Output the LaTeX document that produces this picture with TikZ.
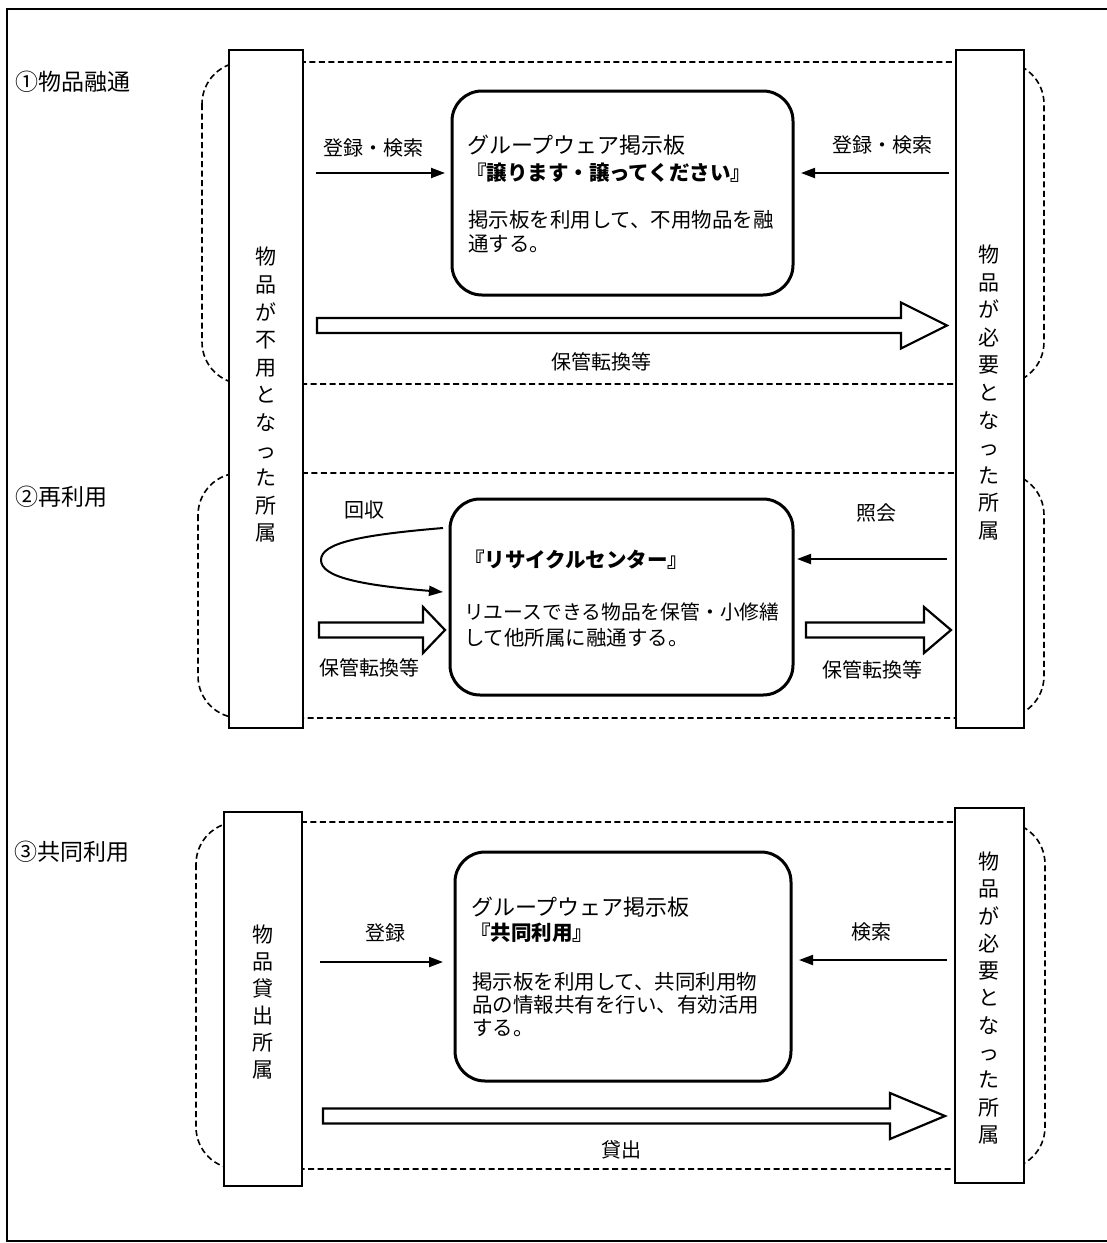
\documentclass[tikz,border=0pt]{standalone}
\usepackage{fontspec}
\setmainfont{Noto Sans CJK JP}
\usetikzlibrary{arrows.meta,calc}
\newcommand\fatarrow[3]{%
  \draw[fat] let \p1=(#1), \p2=(#2) in
    (\x1,\y1+7.5pt) -- (\x2-#3,\y1+7.5pt) -- (\x2-#3,\y1+23pt) -- (\x2,\y1)
    -- (\x2-#3,\y1-23pt) -- (\x2-#3,\y1-7.5pt) -- (\x1,\y1-7.5pt) -- cycle;}
\begin{document}
\begin{tikzpicture}[x=1pt,y=-1pt,
  every node/.style={inner sep=0pt, outer sep=0pt},
  side/.style={draw, line width=2pt, fill=white},
  zone/.style={draw, dash pattern=on 6pt off 3.5pt, line width=1.6pt, rounded corners=42pt},
  board/.style={draw, line width=3pt, rounded corners=30pt, fill=white},
  thinarrow/.style={line width=2pt, -{Triangle[length=14pt,width=10pt]}},
  fat/.style={draw, line width=2.2pt, fill=white, line join=miter},
  lbl/.style={font=\fontsize{20}{24}\selectfont},
  body/.style={font=\fontsize{20.5}{24}\selectfont, anchor=west},
  head/.style={font=\fontsize{22}{24}\selectfont, anchor=west},
  ttl/.style={font=\fontsize{20.5}{24}\selectfont\bfseries, anchor=west},
  vtext/.style={font=\fontsize{21}{27.6}\selectfont, align=center},
  sect/.style={font=\fontsize{23}{26}\selectfont, anchor=west},
]
\useasboundingbox (0,0) rectangle (1107,1243);
% outer frame
\draw[line width=2.5pt] (1107,9) -- (7,9) -- (7,1241) -- (1107,1241);

% dashed zones
\draw[zone] (202,62) rectangle (1044,384);
\draw[zone] (198,473) rectangle (1044,718);
\draw[zone] (196,822) rectangle (1045,1169);

% side boxes
\node[side, minimum width=74, minimum height=678] (L1) at (266,389) {};
\node[side, minimum width=68, minimum height=678] (R1) at (990,389) {};
\node[side, minimum width=78, minimum height=374] (L3) at (263,999) {};
\node[side, minimum width=69, minimum height=375] (R3) at (989.5,995.5) {};

\node[vtext] (L1t) at (266,395) {物\\品\\が\\不\\用\\と\\な\\っ\\た\\所\\属};
\node[vtext] (R1t) at (989,392.5) {物\\品\\が\\必\\要\\と\\な\\っ\\た\\所\\属};
\node[vtext, font=\fontsize{21}{27}\selectfont] (L3t) at (263,1002) {物\\品\\貸\\出\\所\\属};
\node[vtext, font=\fontsize{21}{27.3}\selectfont] (R3t) at (989,998) {物\\品\\が\\必\\要\\と\\な\\っ\\た\\所\\属};

% boards
\node[board, minimum width=341, minimum height=204] (B1) at (622.5,193) {};
\node[board, minimum width=343, minimum height=196] (B2) at (621.5,597) {};
\node[board, minimum width=336, minimum height=229] (B3) at (623,966.5) {};

\node[head] (B1a) at (467,145) {グループウェア掲示板};
\node[ttl]  (B1b) at (466,173) {『譲ります・譲ってください』};
\node[body] (B1c) at (468,220) {掲示板を利用して、不用物品を融};
\node[body] (B1d) at (468,244) {通する。};

\node[ttl]  (B2a) at (464,560) {『リサイクルセンター』};
\node[body, font=\fontsize{19.8}{24}\selectfont] (B2b) at (464,612) {リユースできる物品を保管・小修繕};
\node[body] (B2c) at (464,638) {して他所属に融通する。};

\node[head] (B3a) at (471,907) {グループウェア掲示板};
\node[ttl]  (B3b) at (470,933) {『共同利用』};
\node[body] (B3c) at (472,982) {掲示板を利用して、共同利用物};
\node[body] (B3d) at (472,1005) {品の情報共有を行い、有効活用};
\node[body] (B3e) at (472,1028) {する。};

% section titles
\node[sect] (S1) at (16,82) {①物品融通};
\node[sect] (S2) at (16,497) {②再利用};
\node[sect] (S3) at (14,852) {③共同利用};

% level coordinates
\coordinate (y1a) at (0,173);
\coordinate (y1b) at (0,325.5);
\coordinate (y2a) at (0,528);
\coordinate (y2b) at (0,592);
\coordinate (y2s) at (0,559);
\coordinate (y2c) at (0,630);
\coordinate (y3a) at (0,962);
\coordinate (y3b) at (0,960);
\coordinate (y3c) at (0,1116);
\coordinate (apex) at (321,560);

% section 1
\draw[thinarrow] ($(L1.east|-y1a)+(13,0)$) -- ($(B1.west|-y1a)+(-7,0)$);
\draw[thinarrow] ($(R1.west|-y1a)+(-7,0)$) -- ($(B1.east|-y1a)+(8,0)$);
\fatarrow{$(L1.east|-y1b)+(14,0)$}{$(R1.west|-y1b)+(-9,0)$}{46pt}
\node[lbl] (l1a) at (373,148) {登録・検索};
\node[lbl] (l1b) at (882,145) {登録・検索};
\node[lbl] (l1c) at (601,362) {保管転換等};

% section 2
\draw[thinarrow] ($(B2.west|-y2a)+(-7,0)$) .. controls (360,535) and (321,543) .. (apex)
  .. controls (321,577) and (360,585) .. ($(B2.west|-y2b)+(-7,0)$);
\draw[thinarrow] ($(R1.west|-y2s)+(-9,0)$) -- ($(B2.east|-y2s)+(4,0)$);
\fatarrow{$(L1.east|-y2c)+(16,0)$}{$(B2.west|-y2c)+(-5,0)$}{22pt}
\fatarrow{$(B2.east|-y2c)+(13,0)$}{$(R1.west|-y2c)+(-5,0)$}{27pt}
\node[lbl] (l2a) at (364,510) {回収};
\node[lbl] (l2b) at (876,513) {照会};
\node[lbl] (l2c) at (369,668) {保管転換等};
\node[lbl] (l2d) at (872,670) {保管転換等};

% section 3
\draw[thinarrow] ($(L3.east|-y3a)+(18,0)$) -- ($(B3.west|-y3a)+(-12,0)$);
\draw[thinarrow] ($(R3.west|-y3b)+(-8,0)$) -- ($(B3.east|-y3b)+(8,0)$);
\fatarrow{$(L3.east|-y3c)+(21,0)$}{$(R3.west|-y3c)+(-10,0)$}{55pt}
\node[lbl] (l3a) at (385,933) {登録};
\node[lbl] (l3b) at (871,932) {検索};
\node[lbl] (l3c) at (621,1150) {貸出};
\end{tikzpicture}
\end{document}
